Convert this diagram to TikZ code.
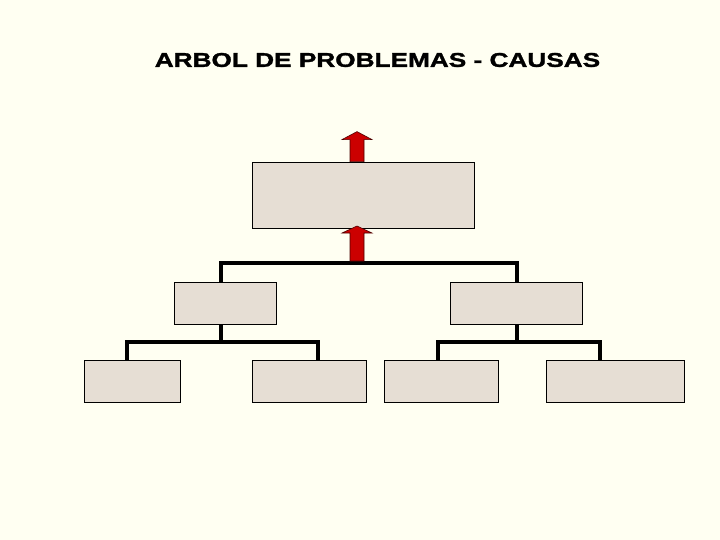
\documentclass[tikz,border=0pt]{standalone}
\usepackage{fontspec}
\setmainfont{Liberation Sans}
\newfontfamily\titlefont[FakeStretch=1.31, FakeBold=1.5]{Liberation Sans Bold}
\usepackage{tikz}
\usetikzlibrary{positioning}

\definecolor{paper}{HTML}{FFFFF2}
\definecolor{boxfill}{HTML}{E6DED4}
\definecolor{arrowred}{HTML}{CC0000}

\tikzset{
	probbox/.style={draw, line width=0.8pt, fill=boxfill, rectangle, inner sep=0pt},
	treeline/.style={line width=4pt, black},
	redarrow/.style={draw=black!70!red, line width=0.6pt, fill=arrowred, line join=miter}
}

\begin{document}
\begin{tikzpicture}[x=1pt, y=-1pt]
				\fill[paper] (0,0) rectangle (720,540);
				\useasboundingbox (0,0) rectangle (720,540);
				\node[font=\titlefont\fontsize{20}{24}\selectfont] (title) at (377.5,60) {ARBOL DE PROBLEMAS - CAUSAS};
				% problema central
				\node[probbox, minimum width=222pt, minimum height=66pt] (P)at(363, 195) {};
				% causas directas
				\node[probbox, minimum width=102pt, minimum height=42pt] (C1)at(225, 303) {};
				\node[probbox, minimum width=132pt, minimum height=42pt] (C2)at(516, 303) {};
				% causas indirectas
				\node[probbox, minimum width=96pt, minimum height=42pt] (C11)at(132, 381) {};
				\node[probbox, minimum width=114pt, minimum height=42pt] (C12)at(309, 381) {};
				\node[probbox, minimum width=114pt, minimum height=42pt] (C21)at(441, 381) {};
				\node[probbox, minimum width=138pt, minimum height=42pt] (C22)at(615, 381) {};
				\coordinate (J0)at(357, 263);
				\coordinate (J1)at(221, 342);
				\coordinate (J2)at(517, 342);
				\draw[treeline] ([xshift=-4pt]C1.north) |- (J0) -| ([xshift=1pt]C2.north);
				\draw[treeline] ([xshift=-4pt]C1.south) -- (J1);
				\draw[treeline] ([xshift=-5pt]C11.north) |- (J1) -| ([xshift=9pt]C12.north);
				\draw[treeline] ([xshift=1pt]C2.south) -- (J2);
				\draw[treeline] ([xshift=-3pt]C21.north) |- (J2) -| ([xshift=-15pt]C22.north);
				% flechas
				\draw[redarrow] (P.north -| J0) ++(-7,0) -- ++(0,-22) -- ++(-8,0) -- ++(15,-8) -- ++(15,8) -- ++(-8,0) -- ++(0,22) -- cycle;
				\draw[redarrow] (J0) ++(-7,-2) -- ++(0,-28) -- ++(-8,0) -- ++(15,-7) -- ++(15,7) -- ++(-8,0) -- ++(0,28) -- cycle;
			\end{tikzpicture}
\end{document}
